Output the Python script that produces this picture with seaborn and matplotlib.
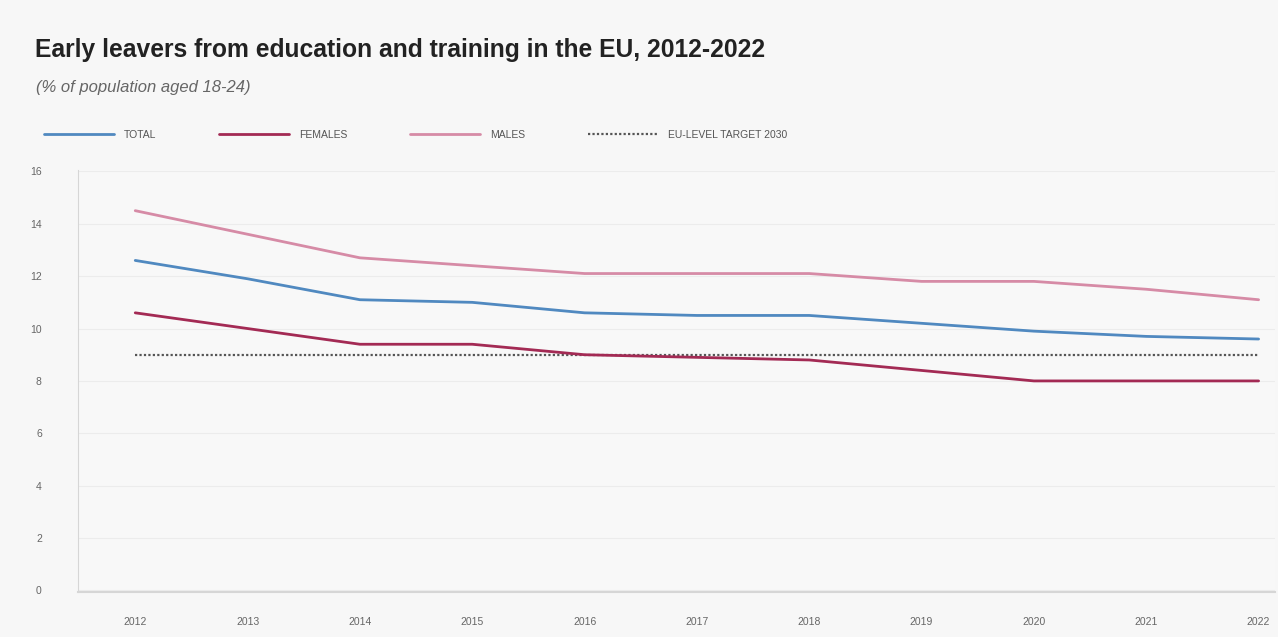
import matplotlib
matplotlib.use("Agg")
import matplotlib.pyplot as plt
import seaborn as sns
import pandas as pd
from matplotlib.lines import Line2D

years = [2012, 2013, 2014, 2015, 2016, 2017, 2018, 2019, 2020, 2021, 2022]
total = [12.6, 11.9, 11.1, 11.0, 10.6, 10.5, 10.5, 10.2, 9.9, 9.7, 9.6]
females = [10.6, 10.0, 9.4, 9.4, 9.0, 8.9, 8.8, 8.4, 8.0, 8.0, 8.0]
males = [14.5, 13.6, 12.7, 12.4, 12.1, 12.1, 12.1, 11.8, 11.8, 11.5, 11.1]
target = [9.0] * len(years)
series_names = ["TOTAL", "FEMALES", "MALES"]
target_name = "EU-LEVEL TARGET 2030"
yticks = [0, 2, 4, 6, 8, 10, 12, 14, 16]
title = "Early leavers from education and training in the EU, 2012-2022"
subtitle = "(% of population aged 18-24)"

sns.set_style("white")
plt.rcParams["font.family"] = ["Liberation Sans", "DejaVu Sans"]

df = pd.DataFrame({
    "year": years * 3,
    "value": total + females + males,
    "series": [series_names[0]] * 11 + [series_names[1]] * 11 + [series_names[2]] * 11,
})
tdf = pd.DataFrame({"year": years, "value": target})

palette = {"TOTAL": "#5089c0", "FEMALES": "#a32a54", "MALES": "#d68ba6"}

fig = plt.figure(figsize=(12.78, 6.37), dpi=100, facecolor="#f7f7f7")
ax = fig.add_axes([0.061, 0.071, 0.937, 0.662])
ax.set_facecolor("#f8f8f8")

sns.lineplot(data=tdf, x="year", y="value", ax=ax, color="#555555",
             linestyle=(0, (1, 1)), linewidth=1.6, legend=False)
sns.lineplot(data=df, x="year", y="value", hue="series", palette=palette,
             ax=ax, linewidth=2.0, legend=False)

ax.set_xlim(2011.49, 2022.15)
ax.set_ylim(-0.05, 16.05)
ax.set_yticks(yticks)
ax.set_xticks(years)
ax.set_xlabel("")
ax.set_ylabel("")
ax.tick_params(axis="y", labelsize=7.5, colors="#666666", length=0, pad=26)
ax.tick_params(axis="x", labelsize=7.5, colors="#666666", length=0, pad=18)
ax.grid(axis="y", color="#ececec", linewidth=0.8)
for s in ["top", "right"]:
    ax.spines[s].set_visible(False)
ax.spines["left"].set_color("#d6d6d6")
ax.spines["bottom"].set_color("#d6d6d6")
ax.spines["bottom"].set_linewidth(1.5)

fig.text(0.027, 0.922, title, fontsize=17.7, weight="bold", color="#222222", va="center")
fig.text(0.028, 0.862, subtitle, fontsize=12, style="italic", color="#666666", va="center")

handles = [Line2D([], [], color=palette[n], linewidth=2.0) for n in series_names]
handles.append(Line2D([], [], color="#555555", linestyle=(0, (1, 1)), linewidth=1.6))
labels = series_names + [target_name]
leg = fig.legend(handles, labels, loc="center left", bbox_to_anchor=(0.027, 0.788),
                 ncol=4, frameon=False, handlelength=6.7, columnspacing=6.0,
                 handletextpad=1.0, prop={"size": 7.5})
for t in leg.get_texts():
    t.set_color("#555555")

fig.savefig("out.png", dpi=100, facecolor=fig.get_facecolor())
